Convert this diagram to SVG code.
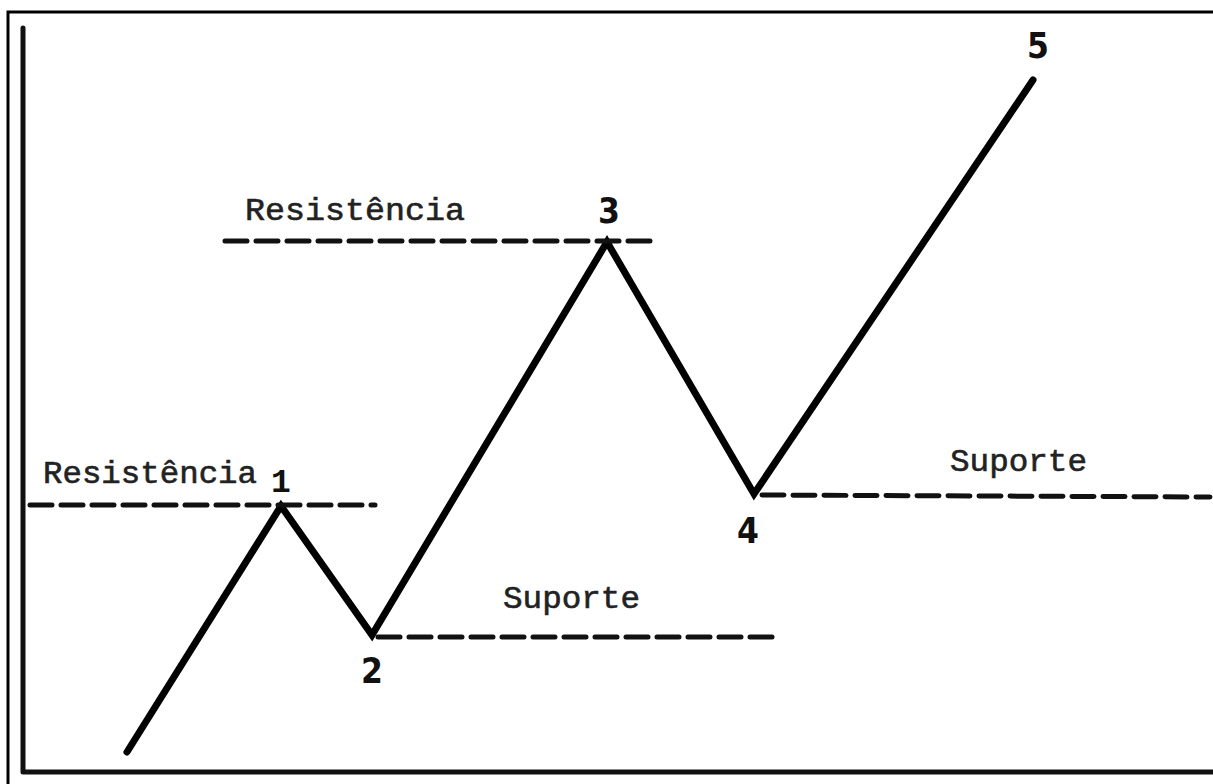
<svg xmlns="http://www.w3.org/2000/svg" width="1213" height="784" viewBox="0 0 1213 784">
<style>
.frame{fill:none;stroke:#000;stroke-width:3}
.axis{fill:none;stroke:#111;stroke-width:5;stroke-linecap:round;stroke-linejoin:round}
.price{fill:none;stroke:#000;stroke-width:7;stroke-linecap:round;stroke-linejoin:miter}
.dash{fill:none;stroke:#111;stroke-width:5;stroke-dasharray:22 9;stroke-linecap:round}
.lbl{font-family:"Liberation Mono","Courier New",monospace;font-size:31px;fill:#222;stroke:#222;stroke-width:0.6}
.num{font-family:"DejaVu Sans","Liberation Sans",sans-serif;font-stretch:condensed;font-size:35px;font-weight:bold;fill:#111;text-anchor:middle}
</style>
<rect width="1213" height="784" fill="#fff"/>
<path class="frame" d="M8,784 V12 H1213"/>
<g id="axes">
<path class="axis" d="M23,28 V772 H1213"/>
</g>
<g id="connectors">
<polyline class="price" points="127,752 281,506 372,635 607,242 754,494 1033,80"/>
<line class="dash" x1="30" y1="505" x2="375" y2="505"/>
<line class="dash" x1="225" y1="241" x2="652" y2="241"/>
<line class="dash" x1="378" y1="637" x2="775" y2="637"/>
<line class="dash" x1="762" y1="495" x2="1210" y2="497"/>
</g>
<g id="res1"><text class="lbl" x="43" y="483" textLength="214" lengthAdjust="spacingAndGlyphs">Resistência</text></g>
<g id="res3"><text class="lbl" x="245" y="220" textLength="220" lengthAdjust="spacingAndGlyphs">Resistência</text></g>
<g id="sup2"><text class="lbl" x="503" y="608" textLength="137" lengthAdjust="spacingAndGlyphs">Suporte</text></g>
<g id="sup4"><text class="lbl" x="950" y="471" textLength="137" lengthAdjust="spacingAndGlyphs">Suporte</text></g>
<g id="p1"><text class="num" x="281" y="492" style="font-family:'Liberation Mono',monospace;font-size:33px">1</text></g>
<g id="p2"><text class="num" x="372" y="683">2</text></g>
<g id="p3"><text class="num" x="609" y="223">3</text></g>
<g id="p4"><text class="num" x="748" y="543">4</text></g>
<g id="p5"><text class="num" x="1038" y="58">5</text></g>
</svg>
